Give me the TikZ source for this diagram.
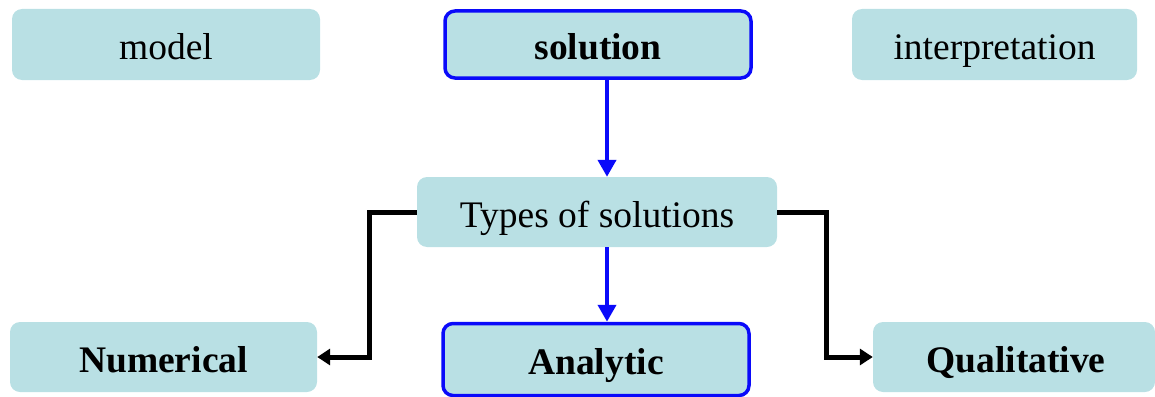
\documentclass[tikz,border=0pt]{standalone}
\usepackage{fontspec}
\setmainfont{Liberation Serif}
\usetikzlibrary{arrows.meta}
\definecolor{boxfill}{RGB}{185,224,228}
\definecolor{myblue}{RGB}{10,10,250}
\begin{document}
\begin{tikzpicture}[x=1pt,y=-1pt,
  box/.style={fill=boxfill, rounded corners=10pt, inner sep=0pt, text=black,
    font=\fontsize{37.5}{44}\selectfont, text height=33pt, text depth=3pt},
  boldbox/.style={box, font=\fontsize{37.5}{44}\selectfont\bfseries},
  bluebox/.style={boldbox, draw=myblue, line width=3.5pt},
  blink/.style={draw=myblue, line width=4pt, -{Triangle[length=17pt,width=18pt]}},
  klink/.style={draw=black, line width=5pt, -{Triangle[length=13pt,width=16pt]}}]
\useasboundingbox (0,0) rectangle (1155,396);
\node[box, minimum width=308pt, minimum height=71pt] (model) at (166,44.5) {model};
\node[bluebox, minimum width=306pt, minimum height=67pt] (solution) at (598,44.5) {solution};
\node[box, minimum width=285pt, minimum height=71pt] (interp) at (994.5,44.5) {interpretation};
\node[box, minimum width=360pt, minimum height=70pt] (types) at (597,212) {Types of solutions};
\node[boldbox, minimum width=307pt, minimum height=70pt] (num) at (163.5,357) {Numerical};
\node[bluebox, minimum width=306pt, minimum height=72pt] (ana) at (596,359.5) {Analytic};
\node[boldbox, minimum width=282pt, minimum height=70pt] (qual) at (1014,357) {\hspace*{4pt}Qualitative};
\draw[blink] ([xshift=9pt]solution.south) -- ([xshift=10pt]types.north);
\draw[blink] ([xshift=10pt]types.south) -- ([xshift=11pt]ana.north);
\draw[klink] (types.west) -- (369,212) -- (369,357) -- (num.east);
\draw[klink] (types.east) -- (826,212) -- (826,357) -- (qual.west);
\end{tikzpicture}
\end{document}
